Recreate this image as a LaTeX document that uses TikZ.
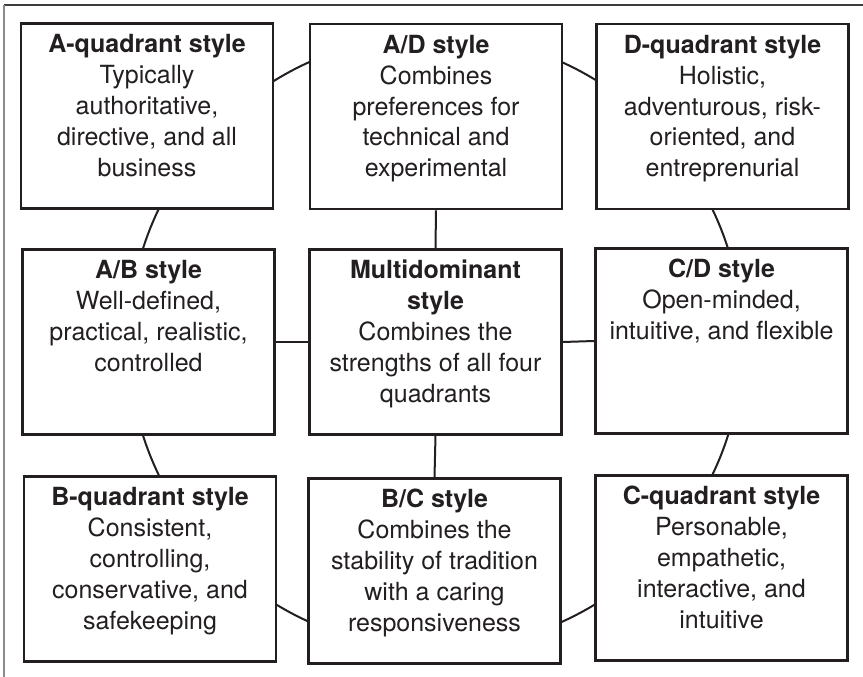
\documentclass[tikz,border=0pt]{standalone}
\usepackage{fontspec}
\setmainfont{TeX Gyre Heros}
\definecolor{ink}{HTML}{231F20}
\definecolor{frametop}{HTML}{3C3C3C}
\definecolor{frameleft}{HTML}{8A8A8A}
\newcommand\tstrut{\rule{0pt}{19pt}}
\begin{document}
\begin{tikzpicture}[x=1pt,y=-1pt,
  box/.style={draw=ink, line width=2.6pt, fill=white, minimum width=252pt, minimum height=185pt, inner sep=0pt},
  txt/.style={anchor=north, align=center, inner sep=0pt, text=ink, font=\fontsize{25}{30.8}\selectfont},
  link/.style={draw=ink, line width=2pt}]
\useasboundingbox (0,0) rectangle (863,677);
% outer frame (top and left edges)
\coordinate (fbl) at (4,677);
\coordinate (ftl) at (4,5);
\coordinate (ftr) at (863,5);
\draw[frametop, line width=1.3pt] (ftl) -- (ftr);
\draw[frameleft, line width=1.4pt] (fbl) -- (ftl);
% circle behind boxes
\coordinate (ctr) at (435.5,342);
\draw[link] (ctr) circle[radius=307pt];
% boxes
\node[box] (aq) at (147,116) {};
\node[box] (ad) at (436,116.5) {};
\node[box] (dq) at (722.5,116.5) {};
\node[box] (ab) at (148.5,342) {};
\node[box] (md) at (435.5,342) {};
\node[box] (cd) at (721.5,341) {};
\node[box] (bq) at (150,569) {};
\node[box] (bc) at (434.5,571) {};
\node[box] (cq) at (721.5,568) {};
% cross connectors
\draw[link] (ad.south) -- (md.north);
\draw[link] (md.south) -- (bc.north);
\draw[link] (ab.east) -- (md.west);
\draw[link] (md.east) -- (cd.west);
% texts
\node[txt] (aqt) at ([yshift=-11.5pt]aq.north) {\tstrut\textbf{A-quadrant style}\\Typically\\authoritative,\\directive, and all\\business};
\node[txt] (adt) at ([yshift=-11.5pt]ad.north) {\tstrut\textbf{A/D style}\\Combines\\preferences for\\technical and\\experimental};
\node[txt] (dqt) at ([yshift=-11.5pt]dq.north) {\tstrut\textbf{D-quadrant style}\\Holistic,\\adventurous, risk-\\oriented, and\\entreprenurial};
\node[txt] (abt) at ([yshift=-11.5pt]ab.north) {\tstrut\textbf{A/B style}\\Well-defined,\\practical, realistic,\\controlled};
\node[txt] (mdt) at ([yshift=-11.5pt]md.north) {\tstrut\textbf{Multidominant}\\\textbf{style}\\Combines the\\strengths of all four\\quadrants};
\node[txt] (cdt) at ([yshift=-11.5pt]cd.north) {\tstrut\textbf{C/D style}\\Open-minded,\\intuitive, and flexible};
\node[txt] (bqt) at ([yshift=-11.5pt]bq.north) {\tstrut\textbf{B-quadrant style}\\Consistent,\\controlling,\\conservative, and\\safekeeping};
\node[txt] (bct) at ([yshift=-11.5pt]bc.north) {\tstrut\textbf{B/C style}\\Combines the\\stability of tradition\\with a caring\\responsiveness};
\node[txt] (cqt) at ([yshift=-11.5pt]cq.north) {\tstrut\textbf{C-quadrant style}\\Personable,\\empathetic,\\interactive, and\\intuitive};
\end{tikzpicture}
\end{document}
